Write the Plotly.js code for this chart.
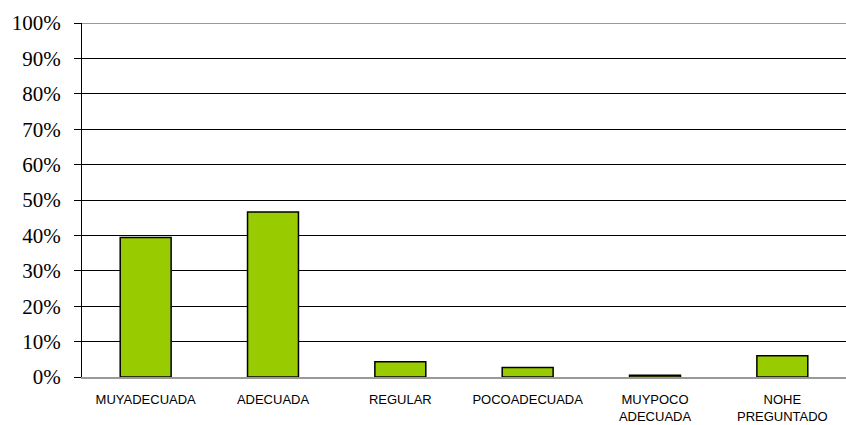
<!DOCTYPE html>
<html>
<head>
<meta charset="utf-8">
<script src="https://cdn.plot.ly/plotly-3.0.1.min.js"></script>
<style>html,body{margin:0;padding:0;background:#fff;}#chart{width:846px;height:425px;}</style>
</head>
<body>
<div id="chart"></div>
<script>
const categories = ["MUYADECUADA", "ADECUADA", "REGULAR", "POCOADECUADA", "MUYPOCO<br>ADECUADA", "NOHE<br>PREGUNTADO"];
const values = [0.394, 0.466, 0.043, 0.027, 0.005, 0.060];
const yTickVals = [0, 0.1, 0.2, 0.3, 0.4, 0.5, 0.6, 0.7, 0.8, 0.9, 1.0];
const yTickText = ["0%", "10%", "20%", "30%", "40%", "50%", "60%", "70%", "80%", "90%", "100%"];

const trace = {
  type: "bar",
  x: categories,
  y: values,
  marker: { color: "#99CC00", line: { color: "#000000", width: 1.5 } },
  hoverinfo: "skip"
};

const layout = {
  width: 846, height: 425,
  margin: { l: 82, r: 0, t: 23, b: 48, pad: 0 },
  paper_bgcolor: "#ffffff",
  plot_bgcolor: "#ffffff",
  bargap: 0.6,
  showlegend: false,
  xaxis: {
    type: "category",
    showgrid: false,
    showline: true,
    linecolor: "#999999",
    linewidth: 2,
    ticks: "",
    ticklabelstandoff: 9,
    tickfont: { family: "Liberation Sans, Arial, sans-serif", size: 13, color: "#000" },
    automargin: false
  },
  yaxis: {
    range: [0, 1],
    tickvals: yTickVals,
    ticktext: yTickText,
    showgrid: true,
    gridcolor: "#000000",
    gridwidth: 1,
    zeroline: false,
    showline: true,
    linecolor: "#000000",
    linewidth: 1,
    ticks: "outside",
    ticklen: 7,
    tickcolor: "#000000",
    ticklabelstandoff: 9,
    tickfont: { family: "Liberation Serif, Times New Roman, serif", size: 21, color: "#000" },
    automargin: false
  },
  shapes: [
    { type: "line", xref: "paper", yref: "y", x0: 0, x1: 1, y0: 1, y1: 1, line: { color: "#999999", width: 2 } }
  ]
};

Plotly.newPlot("chart", [trace], layout, { displayModeBar: false, staticPlot: true });
</script>
</body>
</html>
